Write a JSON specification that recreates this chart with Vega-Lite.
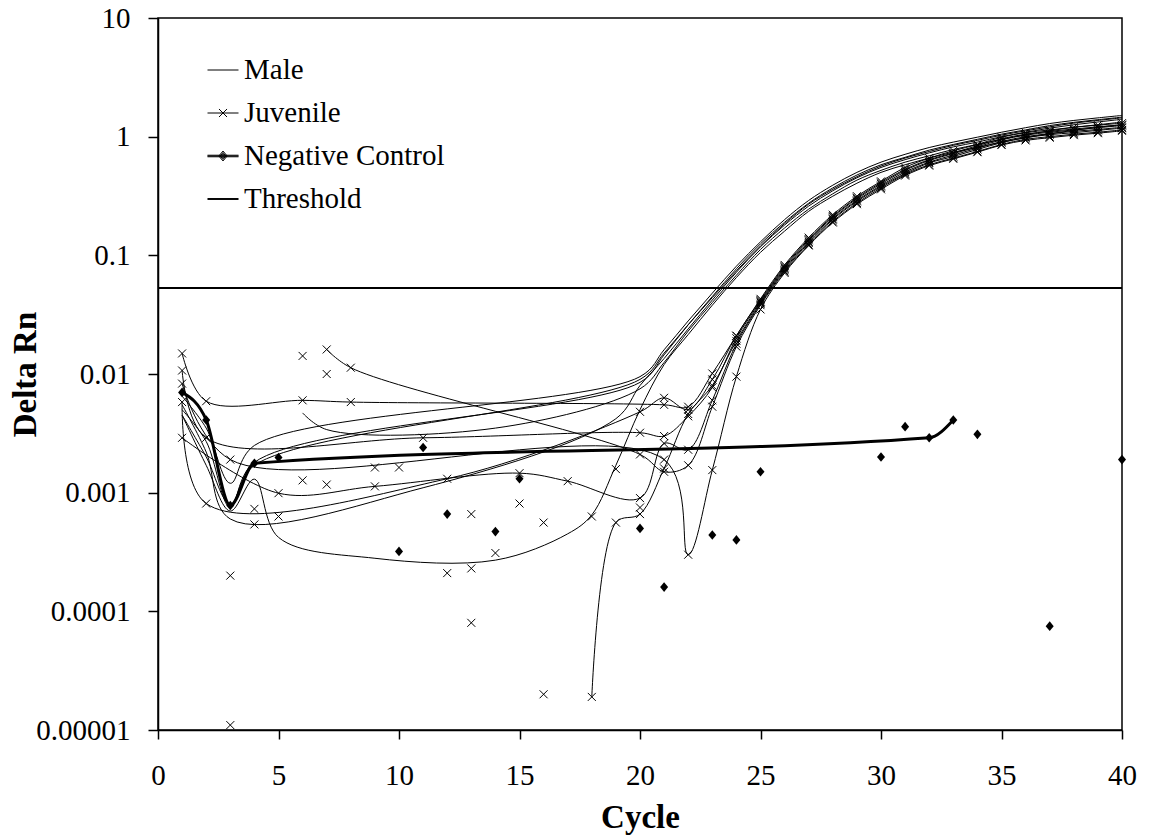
{
 "$schema": "https://vega.github.io/schema/vega-lite/v6.json",
 "width": 964, "height": 712,
 "autosize": {"type": "none"},
 "padding": {"left": 158, "top": 18, "right": 28, "bottom": 108},
 "background": "white",
 "config": {
  "font": "Liberation Serif",
  "view": {"stroke": "black", "strokeWidth": 1.5},
  "axis": {"domainColor": "black", "domainWidth": 1.5, "tickColor": "black", "tickWidth": 1.5, "labelColor": "black", "titleColor": "black", "labelFont": "Liberation Serif", "titleFont": "Liberation Serif", "labelFontSize": 29, "titleFontSize": 33, "titleFontWeight": "bold", "grid": false}
 },
 "datasets": {
  "wide": [
   {"c":1,"m1":0.0065,"m2":0.005,"m3":0.0055,"m5":0.0045,"m6":0.0045,"j1":0.0149,"j3":0.0107,"j4":0.0083,"j6":0.0058,"j7":0.0029,"n1":0.007},
   {"c":2,"m1":0.0035,"m2":0.0027,"m3":0.0022,"m5":0.0017,"m6":0.002,"j1":0.0059,"j3":0.0029,"j6":0.00081,"n1":0.0041},
   {"c":3,"m1":0.0012,"m2":0.00075,"m3":0.0006,"m5":0.0007,"m6":0.0008,"j4":0.0019,"js1":0.0002,"js2":0.000011,"n1":0.00078},
   {"c":4,"m1":0.0025,"m2":0.0018,"m5":0.0013,"m6":0.0017,"js1":0.00054,"js2":0.00073,"n1":0.00177},
   {"c":5,"m5":0.00042,"j7":0.00099,"js1":0.00063,"ns1":0.00198},
   {"c":6,"m4":0.0047,"j1":0.006,"js1":0.0142,"js2":0.00127},
   {"c":7,"m4":0.0034,"j2":0.0161,"js1":0.01,"js2":0.00117},
   {"c":8,"j1":0.0058,"j2":0.0113},
   {"c":9,"m5":0.00028,"j7":0.00113,"js1":0.00163},
   {"c":10,"js1":0.00163,"ns1":0.00032},
   {"c":11,"m3":0.0011,"j3":0.0029,"ns1":0.0024},
   {"c":12,"j6":0.00131,"js1":0.00021,"ns1":0.00066},
   {"c":13,"js1":0.00066,"js2":0.00023,"js3":0.00008},
   {"c":14,"m4":0.0035,"m5":0.00027,"js1":0.00031,"ns1":0.00047},
   {"c":15,"j7":0.00146,"js1":0.00081,"ns1":0.00131},
   {"c":16,"js1":0.00056,"js2":0.00002},
   {"c":17,"m5":0.00045,"j7":0.00125},
   {"c":18,"m5":0.00065,"j5":0.000019,"js1":0.00063},
   {"c":19,"m3":0.0042,"m5":0.0017,"j5":0.00056,"js1":0.00158},
   {"c":20,"m1":0.0095,"m2":0.0085,"m3":0.008,"m4":0.0075,"m5":0.005,"m6":0.009,"j2":0.0021,"j3":0.0032,"j5":0.00066,"j6":0.0048,"j7":0.0009,"js1":0.00075,"ns1":0.0005},
   {"c":21,"m1":0.016,"m2":0.0145,"m3":0.0135,"m4":0.0125,"m5":0.012,"m6":0.015,"j1":0.0055,"j2":0.0015,"j3":0.003,"j4":0.0019,"j5":0.0016,"j6":0.0063,"j7":0.0026,"ns1":0.00016},
   {"c":22,"m1":0.028,"m2":0.026,"m3":0.024,"m4":0.023,"m5":0.0215,"m6":0.026,"j1":0.0053,"j2":0.0017,"j3":0.0044,"j4":0.0003,"j5":0.0046,"j6":0.005,"j7":0.0023},
   {"c":23,"m1":0.048,"m2":0.045,"m3":0.042,"m4":0.04,"m5":0.038,"m6":0.044,"j1":0.0101,"j2":0.0053,"j3":0.0077,"j4":0.00155,"j5":0.008,"j6":0.009,"j7":0.006,"ns1":0.00044},
   {"c":24,"m1":0.081,"m2":0.077,"m3":0.072,"m4":0.068,"m5":0.065,"m6":0.074,"j1":0.021,"j2":0.017,"j3":0.02,"j4":0.0095,"j5":0.019,"j6":0.021,"j7":0.018,"ns1":0.0004},
   {"c":25,"m1":0.13,"m2":0.125,"m3":0.118,"m4":0.112,"m5":0.106,"m6":0.12,"j1":0.043,"j2":0.038,"j3":0.041,"j4":0.035,"j5":0.04,"j6":0.042,"j7":0.039,"ns1":0.0015},
   {"c":26,"m1":0.2,"m2":0.19,"m3":0.18,"m4":0.17,"m5":0.16,"m6":0.185,"j1":0.083,"j2":0.073,"j3":0.079,"j4":0.071,"j5":0.077,"j6":0.081,"j7":0.075},
   {"c":27,"m1":0.29,"m2":0.275,"m3":0.26,"m4":0.245,"m5":0.235,"m6":0.27,"j1":0.141,"j2":0.123,"j3":0.134,"j4":0.121,"j5":0.13,"j6":0.137,"j7":0.127},
   {"c":28,"m1":0.39,"m2":0.37,"m3":0.35,"m4":0.33,"m5":0.315,"m6":0.36,"j1":0.22,"j2":0.193,"j3":0.21,"j4":0.189,"j5":0.204,"j6":0.214,"j7":0.2},
   {"c":29,"m1":0.5,"m2":0.475,"m3":0.45,"m4":0.43,"m5":0.405,"m6":0.46,"j1":0.315,"j2":0.276,"j3":0.3,"j4":0.27,"j5":0.291,"j6":0.306,"j7":0.285},
   {"c":30,"m1":0.61,"m2":0.58,"m3":0.55,"m4":0.52,"m5":0.5,"m6":0.565,"j1":0.42,"j2":0.37,"j3":0.4,"j4":0.36,"j5":0.388,"j6":0.41,"j7":0.38,"ns1":0.002},
   {"c":31,"m1":0.71,"m2":0.67,"m3":0.64,"m4":0.61,"m5":0.58,"m6":0.66,"j1":0.55,"j2":0.48,"j3":0.52,"j4":0.47,"j5":0.504,"j6":0.53,"j7":0.49,"ns1":0.0036},
   {"c":32,"m1":0.81,"m2":0.77,"m3":0.73,"m4":0.69,"m5":0.66,"m6":0.75,"j1":0.66,"j2":0.58,"j3":0.63,"j4":0.57,"j5":0.61,"j6":0.64,"j7":0.6,"n1":0.0029},
   {"c":33,"m1":0.9,"m2":0.86,"m3":0.82,"m4":0.78,"m5":0.74,"m6":0.845,"j1":0.76,"j2":0.66,"j3":0.72,"j4":0.65,"j5":0.7,"j6":0.73,"j7":0.68,"n1":0.0041},
   {"c":34,"m1":0.99,"m2":0.95,"m3":0.9,"m4":0.86,"m5":0.81,"m6":0.93,"j1":0.86,"j2":0.75,"j3":0.82,"j4":0.74,"j5":0.8,"j6":0.84,"j7":0.78,"ns1":0.0031},
   {"c":35,"m1":1.09,"m2":1.05,"m3":1.0,"m4":0.95,"m5":0.9,"m6":1.03,"j1":0.99,"j2":0.86,"j3":0.94,"j4":0.85,"j5":0.91,"j6":0.96,"j7":0.89},
   {"c":36,"m1":1.19,"m2":1.14,"m3":1.09,"m4":1.04,"m5":0.98,"m6":1.12,"j1":1.08,"j2":0.95,"j3":1.03,"j4":0.93,"j5":1.0,"j6":1.05,"j7":0.98},
   {"c":37,"m1":1.29,"m2":1.24,"m3":1.18,"m4":1.12,"m5":1.06,"m6":1.21,"j1":1.14,"j2":1.0,"j3":1.09,"j4":0.98,"j5":1.06,"j6":1.11,"j7":1.04,"ns1":0.000075},
   {"c":38,"m1":1.37,"m2":1.32,"m3":1.26,"m4":1.2,"m5":1.13,"m6":1.3,"j1":1.2,"j2":1.05,"j3":1.14,"j4":1.03,"j5":1.11,"j6":1.16,"j7":1.08},
   {"c":39,"m1":1.44,"m2":1.39,"m3":1.33,"m4":1.26,"m5":1.2,"m6":1.37,"j1":1.25,"j2":1.09,"j3":1.19,"j4":1.07,"j5":1.15,"j6":1.21,"j7":1.13},
   {"c":40,"m1":1.51,"m2":1.46,"m3":1.4,"m4":1.33,"m5":1.26,"m6":1.44,"j1":1.3,"j2":1.14,"j3":1.24,"j4":1.12,"j5":1.2,"j6":1.26,"j7":1.18,"ns1":0.0019}
  ]
 },
 "layer": [
  {
   "data": {"name": "wide"},
   "transform": [{"fold": ["m1","m2","m3","m4","m5","m6"], "as": ["k","v"]}, {"filter": {"field": "v", "valid": true}}],
   "mark": {"type": "line", "interpolate": "catmull-rom", "color": "black", "strokeWidth": 1},
   "encoding": {
    "x": {"field": "c", "type": "quantitative", "scale": {"domain": [0, 40], "nice": false, "zero": false},
      "axis": {"title": "Cycle", "values": [0,5,10,15,20,25,30,35,40], "tickSize": 9, "labelPadding": 22, "labelFlush": false, "labelOverlap": false, "titleX": 482, "titleY": 97, "titleBaseline": "alphabetic"}},
    "y": {"field": "v", "type": "quantitative", "scale": {"type": "log", "domain": [0.00001, 10], "nice": false},
      "axis": {"title": "Delta Rn", "values": [0.00001,0.0001,0.001,0.01,0.1,1,10], "format": "~g", "tickSize": 10, "labelPadding": 18, "labelOverlap": false, "titleX": -123, "titleY": 356, "titleAngle": 270, "titleBaseline": "alphabetic", "titleAlign": "center"}},
    "detail": {"field": "k", "type": "nominal"}
   }
  },
  {
   "data": {"values": [{"Threshold": 0.053}]},
   "mark": {"type": "rule", "color": "black", "strokeWidth": 2},
   "encoding": {
    "y": {"field": "Threshold", "type": "quantitative"}
   }
  },
  {
   "data": {"name": "wide"},
   "transform": [{"fold": ["j1","j2","j3","j4","j5","j6","j7"], "as": ["k","v"]}, {"filter": {"field": "v", "valid": true}}],
   "mark": {"type": "line", "interpolate": "catmull-rom", "color": "black", "strokeWidth": 1},
   "encoding": {
    "x": {"field": "c", "type": "quantitative"},
    "y": {"field": "v", "type": "quantitative"},
    "detail": {"field": "k", "type": "nominal"}
   }
  },
  {
   "data": {"name": "wide"},
   "transform": [{"fold": ["j1","j2","j3","j4","j5","j6","j7","js1","js2","js3"], "as": ["k","v"]}, {"filter": {"field": "v", "valid": true}}],
   "mark": {"type": "point", "shape": "M-1,-1L1,1M-1,1L1,-1", "filled": false, "color": "black", "strokeWidth": 1, "size": 64, "opacity": 1},
   "encoding": {
    "x": {"field": "c", "type": "quantitative"},
    "y": {"field": "v", "type": "quantitative"}
   }
  },
  {
   "data": {"name": "wide"},
   "transform": [{"filter": {"field": "n1", "valid": true}}],
   "mark": {"type": "line", "interpolate": "monotone", "color": "black", "strokeWidth": 3},
   "encoding": {
    "x": {"field": "c", "type": "quantitative"},
    "y": {"field": "n1", "type": "quantitative"}
   }
  },
  {
   "data": {"name": "wide"},
   "transform": [{"fold": ["n1","ns1"], "as": ["k","v"]}, {"filter": {"field": "v", "valid": true}}],
   "mark": {"type": "point", "shape": "M0,-1.2L1,0L0,1.2L-1,0Z", "filled": true, "color": "black", "size": 64, "opacity": 1},
   "encoding": {
    "x": {"field": "c", "type": "quantitative"},
    "y": {"field": "v", "type": "quantitative"}
   }
  },
  {
   "data": {"values": [{"series": "Male"}, {"series": "Juvenile"}, {"series": "Negative Control"}, {"series": "Threshold"}]},
   "transform": [{"filter": {"field": "series", "equal": "none"}}],
   "mark": {"type": "point", "filled": false, "color": "black", "opacity": 1, "strokeWidth": 1},
   "encoding": {
    "shape": {"field": "series", "type": "nominal",
      "scale": {"domain": ["Male", "Juvenile", "Negative Control", "Threshold"],
        "range": ["M-1,0H1", "M-1,0H1M-0.26,-0.26L0.26,0.26M-0.26,0.26L0.26,-0.26", "M-1,0H1M-1,0.05H1M-1,-0.05H1M0,-0.32L0.27,0L0,0.32L-0.27,0ZM0,-0.22L0.18,0L0,0.22L-0.18,0ZM0,-0.12L0.09,0L0,0.12L-0.09,0Z", "M-1,-0.03H1M-1,0.03H1"]},
      "legend": {"title": null, "orient": "none", "legendX": 49, "legendY": 36, "padding": 0, "offset": 0, "symbolSize": 961, "symbolStrokeWidth": 1, "symbolStrokeColor": "black", "labelFont": "Liberation Serif", "labelFontSize": 29, "labelColor": "black", "labelOffset": 5, "rowPadding": 12, "labelLimit": 400}}
   }
  }
 ]
}
